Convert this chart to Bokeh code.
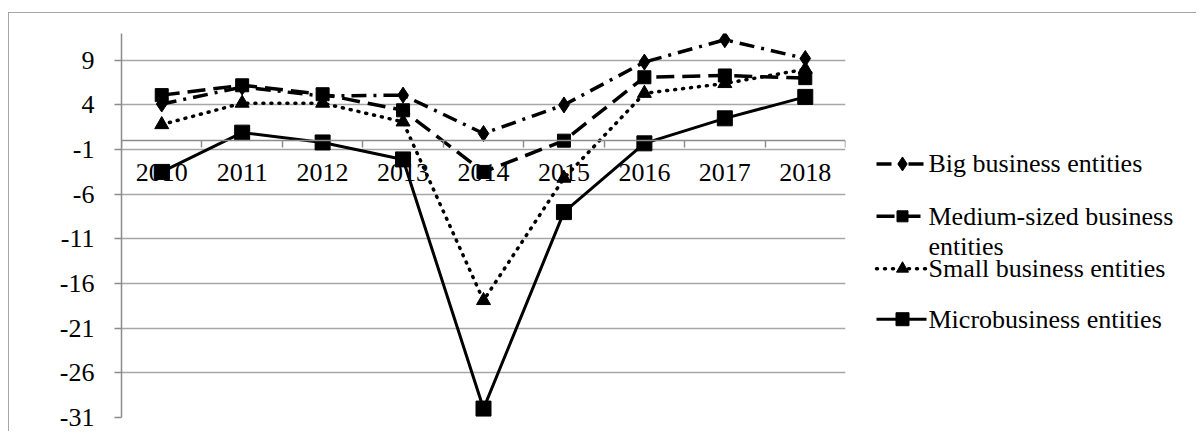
from bokeh.plotting import figure
from bokeh.layouts import row
from bokeh.models import Range1d, FixedTicker
from bokeh.core.properties import value
from bokeh.embed import file_html
from bokeh.resources import INLINE

# ---- data ----
years = ["2010", "2011", "2012", "2013", "2014", "2015", "2016", "2017", "2018"]
big = [4.1, 6.0, 5.0, 5.1, 0.8, 4.0, 8.8, 11.3, 9.2]
medium = [5.1, 6.2, 5.2, 3.4, -3.5, 0.0, 7.1, 7.3, 7.0]
small = [1.8, 4.2, 4.2, 2.1, -17.9, -4.2, 5.3, 6.4, 8.0]
micro = [-3.5, 0.9, -0.2, -2.1, -30.0, -8.0, -0.3, 2.5, 4.9]
y_ticks = [-31, -26, -21, -16, -11, -6, -1, 4, 9]
names = ["Big business entities", "Medium-sized business", "Small business entities",
         "Microbusiness entities"]
name_wrap = "entities"

FONT = "Liberation Serif"
FS = "26px"
GRID = "#a6a6a6"
AXIS = "#8c8c8c"

n = len(years)
centers = [i + 0.5 for i in range(n)]
bounds = [float(i) for i in range(n + 1)]

H = 418
p = figure(width=846, height=H, x_range=Range1d(0, n), y_range=Range1d(-31, 12),
           output_backend="svg", toolbar_location=None,
           min_border_left=112, min_border_right=10, min_border_top=20, min_border_bottom=14)
p.outline_line_color = None

# y axis
yt = FixedTicker(ticks=y_ticks)
p.yaxis.ticker = yt
p.yaxis.major_label_overrides = {t: str(t) for t in y_ticks}
p.yaxis.axis_line_color = AXIS
p.yaxis.axis_line_width = 1.5
p.yaxis.major_tick_line_color = AXIS
p.yaxis.major_tick_line_width = 1.5
p.yaxis.major_tick_out = 7
p.yaxis.major_tick_in = 0
p.yaxis.minor_tick_line_color = None
p.yaxis.major_label_standoff = 20
p.yaxis.major_label_text_font = FONT
p.yaxis.major_label_text_font_size = FS
p.yaxis.major_label_text_color = "black"

# x axis crossing at 0
xa = p.xaxis[0]
xa.fixed_location = 0
xa.ticker = FixedTicker(ticks=centers, minor_ticks=bounds)
xa.major_label_overrides = {c: y for c, y in zip(centers, years)}
xa.axis_line_color = AXIS
xa.axis_line_width = 1.5
xa.major_tick_line_color = None
xa.major_tick_out = 0
xa.major_tick_in = 0
xa.minor_tick_line_color = AXIS
xa.minor_tick_line_width = 1.5
xa.minor_tick_out = 7
xa.minor_tick_in = 0
xa.major_label_standoff = 16
xa.major_label_text_font = FONT
xa.major_label_text_font_size = FS
xa.major_label_text_color = "black"

p.xgrid.visible = False
p.ygrid.ticker = yt
p.ygrid.grid_line_color = GRID
p.ygrid.grid_line_width = 1.5

# series styles
styles = [
    dict(data=big, dash="15 7 3 7", lw=3.5, marker="diamond", size=16, cap="butt"),
    dict(data=medium, dash="18 8", lw=3.5, marker="square", size=13, cap="butt"),
    dict(data=small, dash="1 7", lw=3.5, marker="triangle", size=14, cap="round"),
    dict(data=micro, dash="solid", lw=3, marker="square", size=15, cap="butt"),
]
for s in styles:
    p.line(centers, s["data"], line_color="black", line_width=s["lw"],
           line_dash=s["dash"], line_cap=s["cap"])
    p.scatter(centers, s["data"], marker=s["marker"], size=s["size"], color="black")

# ---- legend panel (separate figure, pixel coordinates from top-left) ----
LW = 341
lg = figure(width=LW, height=H, x_range=Range1d(0, LW), y_range=Range1d(H, 0),
            output_backend="svg", toolbar_location=None,
            min_border_left=0, min_border_right=0, min_border_top=0, min_border_bottom=0)
lg.axis.visible = False
lg.grid.visible = False
lg.outline_line_color = None

row_y = [142, 199, 256, 311]
wrap_y = 232
gx0, gx1, gmid, tx = 21, 71, 47, 73
for s, name, yy in zip(styles, names, row_y):
    lg.line([gx0, gx1], [yy, yy], line_color="black", line_width=s["lw"],
            line_dash=s["dash"], line_cap=s["cap"])
    lg.scatter([gmid], [yy], marker=s["marker"], size=s["size"] - 2, color="black")
    lg.text([tx], [yy], text=[name], text_font=value(FONT), text_font_size=FS,
            text_baseline="middle", text_color="black")
lg.text([tx], [wrap_y], text=[name_wrap], text_font=value(FONT), text_font_size=FS,
        text_baseline="middle", text_color="black")

layout = row(p, lg)
layout.margin = (12, 0, 0, 8)
layout.styles = {"border-left": "1px solid #a6a6a6", "border-top": "1px solid #a6a6a6"}

open("out.html", "w").write(file_html(layout, INLINE))
